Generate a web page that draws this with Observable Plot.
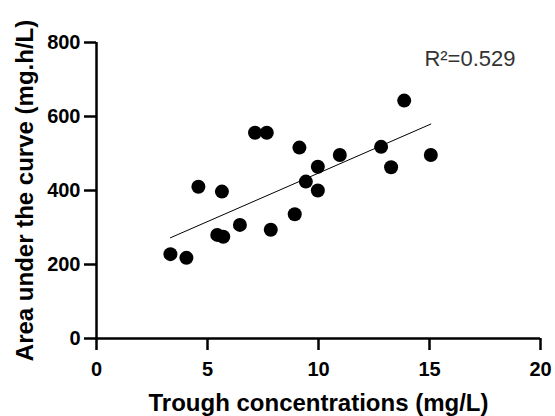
<!DOCTYPE html>
<html>
<head>
<meta charset="utf-8">
<script src="https://cdn.jsdelivr.net/npm/d3@7"></script>
<script src="https://cdn.jsdelivr.net/npm/@observablehq/plot@0.6"></script>
<style>
  html, body { margin: 0; padding: 0; background: #fff; }
</style>
</head>
<body>
<div id="chart"></div>
<script>
// Data
const trough = [3.33, 4.05, 4.59, 5.44, 5.65, 5.71, 6.46, 7.14, 7.67, 7.85, 8.93, 9.14, 9.43, 9.97, 9.97, 10.96, 12.82, 13.27, 13.86, 15.06];
const auc    = [228, 218, 410, 280, 397, 275, 307, 556, 556, 294, 336, 516, 424, 464, 400, 496, 518, 463, 643, 496];

// Regression line coefficients as drawn in the reference
const fitSlope = 26.2;
const fitIntercept = 185;
const r2Label = ["R\u00B2=0.529"];

const xTicks = [0, 5, 10, 15, 20];
const yTicks = [0, 200, 400, 600, 800];
const xLabel = ["Trough concentrations (mg/L)"];
const yLabel = ["Area under the curve (mg.h/L)"];

const points = trough.map((x, i) => ({x, y: auc[i]}));
const xExtent = d3.extent(trough);
const fit = xExtent.map(x => ({x, y: fitIntercept + fitSlope * x}));

const font = "Liberation Sans, Arial, Helvetica, sans-serif";

const chart = Plot.plot({
  width: 555,
  height: 416,
  marginLeft: 96,
  marginRight: 15,
  marginTop: 42,
  marginBottom: 78,
  style: {fontFamily: font, background: "#fff", color: "#000"},
  x: {domain: [0, 20]},
  y: {domain: [0, 800]},
  marks: [
    Plot.axisX({ticks: xTicks, tickSize: 12, tickPadding: 11, strokeWidth: 2.5, fontSize: 20, fontWeight: "bold", label: null, tickFormat: d => String(d)}),
    Plot.axisY({ticks: yTicks, tickSize: 12, tickPadding: 4, strokeWidth: 2.5, fontSize: 20, fontWeight: "bold", label: null, tickFormat: d => String(d)}),
    Plot.ruleY([0], {stroke: "#000", strokeWidth: 2.5}),
    Plot.ruleX([0], {stroke: "#000", strokeWidth: 2.5}),
    Plot.line(fit, {x: "x", y: "y", stroke: "#000", strokeWidth: 1}),
    Plot.dot(points, {x: "x", y: "y", r: 7, fill: "#000", stroke: null}),
    Plot.text(r2Label, {text: d => d, frameAnchor: "top-right", textAnchor: "end", lineAnchor: "top", dx: -25, dy: 8, fontSize: 22, fill: "#333"}),
    Plot.text(xLabel, {text: d => d, frameAnchor: "bottom", textAnchor: "middle", lineAnchor: "middle", dy: 65, fontSize: 24, fontWeight: "bold", fill: "#000"}),
    Plot.text(yLabel, {text: d => d, frameAnchor: "left", textAnchor: "middle", lineAnchor: "middle", rotate: -90, dx: -71, fontSize: 24, fontWeight: "bold", fill: "#000"})
  ]
});

document.getElementById("chart").appendChild(chart);
</script>
</body>
</html>
